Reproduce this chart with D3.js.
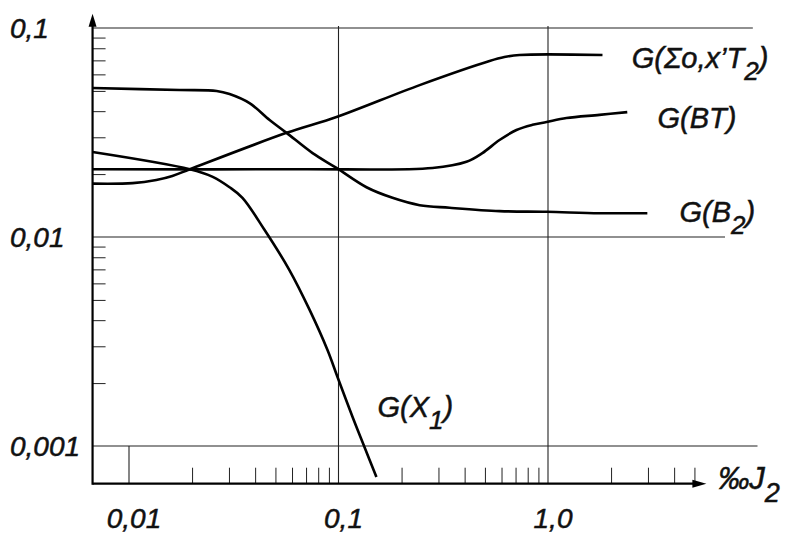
<!DOCTYPE html>
<meta charset="utf-8">
<script src="https://d3js.org/d3.v7.min.js"></script>
<style>
  body { margin: 0; background: #fff; }
  svg text {
    font-family: "Liberation Sans", Arial, sans-serif;
    font-style: italic;
    fill: #111;
    stroke: #111;
    stroke-width: 0.5px;
  }
</style>
<div id="chart"></div>
<script>
  // curves (x = per mille J2, y = G)
  var sumX = [0.0067, 0.0104, 0.0135, 0.0161, 0.0195, 0.0565, 0.0978, 0.244, 0.526, 0.619, 0.731, 1.82];
  var sumY = [0.0180, 0.0181, 0.01875, 0.0196, 0.0211, 0.0315, 0.0375, 0.0533, 0.0695, 0.0726, 0.0743, 0.0743];

  var btX = [0.0067, 0.0652, 0.281, 0.408, 0.486, 0.587, 0.707, 0.843, 0.984, 1.225, 1.76, 2.39];
  var btY = [0.0211, 0.0211, 0.0214, 0.0229, 0.0252, 0.0291, 0.0325, 0.0344, 0.0355, 0.0371, 0.0384, 0.0396];

  var b2X = [0.0067, 0.0174, 0.0262, 0.0302, 0.0376, 0.0469, 0.0565, 0.0752, 0.0978, 0.136, 0.181, 0.244, 0.339, 0.587, 0.984, 1.76, 2.98];
  var b2Y = [0.0516, 0.0505, 0.0500, 0.0483, 0.0437, 0.0363, 0.0315, 0.0252, 0.0214, 0.0173, 0.0154, 0.0142, 0.0138, 0.0133, 0.0132, 0.0130, 0.0130];

  var x1X = [0.0067, 0.0195, 0.0251, 0.0302, 0.0348, 0.0444, 0.0583, 0.0728, 0.0886, 0.0989, 0.1166, 0.133, 0.1517];
  var x1Y = [0.0255, 0.0211, 0.0194, 0.0173, 0.0154, 0.0108, 0.00695, 0.00448, 0.00288, 0.00214, 0.00138, 0.000989, 0.00071];

  // curve labels: text before subscript, subscript, text after; anchor in data units
  var labelMain = ["G(\u03A3o,x\u2019T", "G(BT)", "G(B", "G(X"];
  var labelSub  = ["2", "", "2", "1"];
  var labelTail = [")", "", ")", ")"];
  var labelX = [2.51, 3.33, 4.24, 0.1535];
  var labelY = [0.0644, 0.0333, 0.0118, 0.00138];

  // ticks
  var xTickVals = [0.01, 0.1, 1];
  var xTickText = ["0,01", "0,1", "1,0"];
  var yTickVals = [0.1, 0.01, 0.001];
  var yTickText = ["0,1", "0,01", "0,001"];
  var xMinor = [0.02, 0.03, 0.04, 0.05, 0.06, 0.07, 0.08, 0.09,
                0.2, 0.3, 0.4, 0.5, 0.6, 0.7, 0.8, 0.9, 2, 3, 4, 5];
  var yMinor = [0.002, 0.003, 0.004, 0.005, 0.006, 0.007, 0.008, 0.009,
                0.02, 0.03, 0.04, 0.05, 0.06, 0.07, 0.08, 0.09];

  var width = 792, height = 536;

  var x = d3.scaleLog().domain([0.01, 1]).range([129, 548]);
  var y = d3.scaleLog().domain([0.001, 0.1]).range([446, 28]);

  // axis extents (data units)
  var xStart = 0.0067, xEnd = 5.7;
  var yStart = 0.00066, yEnd = 0.117;
  var gridEnd = [9.5, 7, 10];

  var svg = d3.select("#chart")
    .append("svg")
      .attr("width", width)
      .attr("height", height);

  // horizontal grid lines
  svg.append("g")
    .selectAll("line")
    .data(yTickVals)
    .join("line")
      .attr("x1", x(xStart))
      .attr("x2", (d, i) => x(gridEnd[i]))
      .attr("y1", d => y(d))
      .attr("y2", d => y(d))
      .attr("stroke", "#222")
      .attr("stroke-width", 1.1);

  // vertical grid lines at 0,1 and 1,0
  svg.append("g")
    .selectAll("line")
    .data([0.1, 1])
    .join("line")
      .attr("x1", d => x(d))
      .attr("x2", d => x(d))
      .attr("y1", y(0.1) - 2)
      .attr("y2", y(yStart))
      .attr("stroke", "#222")
      .attr("stroke-width", 1.1);

  // long tick at 0,01
  svg.append("line")
    .attr("x1", x(0.01)).attr("x2", x(0.01))
    .attr("y1", y(0.001)).attr("y2", y(yStart))
    .attr("stroke", "#222")
    .attr("stroke-width", 1.1);

  // minor ticks
  svg.append("g")
    .attr("transform", "translate(0," + y(yStart) + ")")
    .style("color", "#222")
    .call(d3.axisTop(x).tickValues(xMinor).tickSize(16).tickSizeOuter(0).tickFormat(""))
    .call(g => g.select(".domain").remove());

  svg.append("g")
    .attr("transform", "translate(" + x(xStart) + ",0)")
    .style("color", "#222")
    .call(d3.axisRight(y).tickValues(yMinor).tickSize(13).tickSizeOuter(0).tickFormat(""))
    .call(g => g.select(".domain").remove());

  // axes with arrows
  var ax = x(xStart), ay = y(yStart);
  svg.append("line")
    .attr("x1", ax).attr("x2", x(xEnd) - 8)
    .attr("y1", ay).attr("y2", ay)
    .attr("stroke", "#000").attr("stroke-width", 2.2);
  svg.append("line")
    .attr("x1", ax).attr("x2", ax)
    .attr("y1", ay + 1).attr("y2", y(yEnd) + 8)
    .attr("stroke", "#000").attr("stroke-width", 2.2);

  var tx = x(xEnd), ty = y(yEnd);
  svg.append("path")
    .attr("d", "M" + tx + "," + ay + "L" + (tx - 14) + "," + (ay - 4) + "L" + (tx - 14) + "," + (ay + 4) + "Z")
    .attr("fill", "#000");
  svg.append("path")
    .attr("d", "M" + ax + "," + ty + "L" + (ax - 4) + "," + (ty + 13) + "L" + (ax + 4) + "," + (ty + 13) + "Z")
    .attr("fill", "#000");

  // tick labels
  svg.append("g")
    .selectAll("text")
    .data(xTickVals)
    .join("text")
      .attr("x", d => x(d) + 5)
      .attr("y", 528)
      .attr("text-anchor", "middle")
      .style("font-size", "28px")
      .text((d, i) => xTickText[i]);

  svg.append("g")
    .selectAll("text")
    .data(yTickVals)
    .join("text")
      .attr("x", 10)
      .attr("y", d => y(d) + 10)
      .style("font-size", "28px")
      .text((d, i) => yTickText[i]);

  // axis title
  var xt = svg.append("text")
    .attr("x", tx + 12)
    .attr("y", ay + 5)
    .style("font-size", "31px");
  xt.append("tspan").text("\u2030J");
  xt.append("tspan").attr("dy", 13).style("font-size", "27px").text("2");

  // curves
  var line = d3.line()
    .x(d => x(d[0]))
    .y(d => y(d[1]))
    .curve(d3.curveCatmullRom.alpha(0.5));

  var curves = [[sumX, sumY], [btX, btY], [b2X, b2Y], [x1X, x1Y]];
  svg.append("g")
    .selectAll("path")
    .data(curves)
    .join("path")
      .attr("d", c => line(d3.zip(c[0], c[1])))
      .attr("fill", "none")
      .attr("stroke", "#000")
      .attr("stroke-width", 2.6)
      .attr("stroke-linejoin", "round");

  // curve labels
  labelMain.forEach(function(m, i) {
    var t = svg.append("text")
      .attr("x", x(labelX[i]))
      .attr("y", y(labelY[i]))
      .style("font-size", "29px");
    t.append("tspan").text(m);
    if (labelSub[i]) {
      t.append("tspan").attr("dy", 12).style("font-size", "26px").text(labelSub[i]);
      t.append("tspan").attr("dy", -12).text(labelTail[i]);
    }
  });
</script>
